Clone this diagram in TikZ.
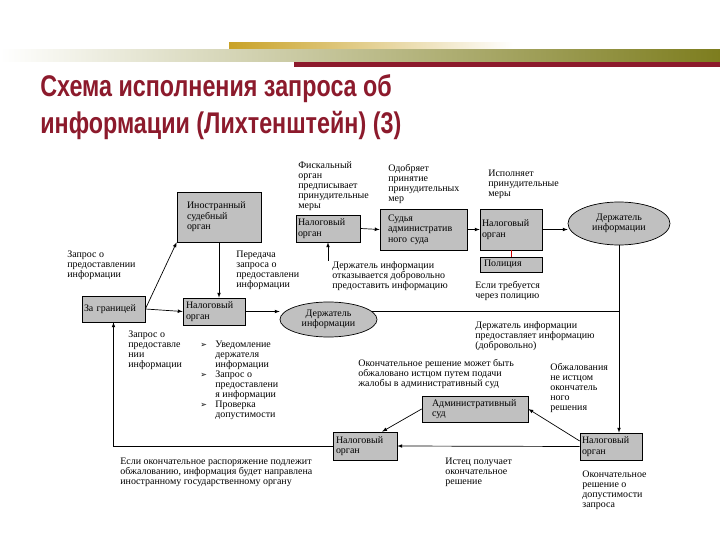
\documentclass[tikz,border=0pt]{standalone}
\usepackage{fontspec}
\setmainfont{Liberation Serif}
\newfontfamily\titlefont[FakeStretch=0.78]{Liberation Sans}
\newfontfamily\bulletfont{DejaVu Sans}
\usetikzlibrary{shapes.geometric}
\definecolor{titlered}{HTML}{8C1A2C}
\definecolor{barolive}{HTML}{7D7D1E}
\definecolor{bargold}{HTML}{C9A227}
\definecolor{boxgray}{HTML}{C0C0C0}
\newcommand{\bulletrow}[1]{\makebox[15bp][l]{\bulletfont\fontsize{8}{10}\selectfont ➢}#1}
\newcommand{\controw}[1]{\hspace*{15bp}#1}
\begin{document}
\begin{tikzpicture}[x=1bp, y=-1bp, >=latex, line width=0.7pt]
\tikzstyle{box} = [draw, fill=boxgray, inner ysep=0pt, align=left, font=\fontsize{10}{10.5}\selectfont]
\tikzstyle{holder} = [draw, fill=boxgray, ellipse, inner sep=0pt, align=center, font=\fontsize{10}{10.5}\selectfont]
\tikzstyle{txt} = [anchor=north west, inner sep=0pt, align=left, font=\fontsize{10}{10}\selectfont]
\useasboundingbox (0,0) rectangle (720,540);

\shade[left color=bargold, right color=white] (229,43) rectangle (513,50);
\shade[left color=white, right color=barolive] (0,50) rectangle (720,62);
\fill[titlered] (294,62) rectangle (720,67);
\node[anchor=north west, inner sep=0pt, align=left, text=titlered,
      font=\titlefont\bfseries\fontsize{30}{37}\selectfont] (title) at (40,74)
      {Схема исполнения запроса об\\информации (Лихтенштейн) (3)};

\node[box, text width=64bp, inner xsep=10bp, minimum height=50bp] (inostr) at (219,217) {Иностранный\\судебный\\орган};
\node[box, text width=60bp, inner xsep=2bp, minimum height=27bp] (nalogtop) at (328,228.5) {Налоговый\\орган};
\node[box, text width=71bp, inner xsep=8bp, minimum height=41bp] (sudya) at (423.5,229.5) {Судья\\административ\\ного суда};
\node[box, text width=58bp, inner xsep=2bp, minimum height=41bp] (nalogTR) at (511,229.5) {Налоговый\\орган\\[12bp]};
\node[box, text width=54bp, inner xsep=4bp, minimum height=15bp] (policia) at (511,264.5) {Полиция};
\node[holder, minimum width=102bp, minimum height=43bp] (derzh1) at (619,223.5) {Держатель\\информации};
\node[box, text width=59bp, inner xsep=2bp, minimum height=26bp] (zagr) at (113.5,309) {За границей};
\node[box, text width=56bp, inner xsep=3bp, minimum height=27bp] (nalogmid) at (214,311.5) {Налоговый\\орган};
\node[holder, minimum width=97bp, minimum height=35bp] (derzh2) at (328.5,319.5) {Держатель\\информации};
\node[box, text width=86bp, inner xsep=10bp, minimum height=26bp] (admsud) at (475,409) {Административный\\суд};
\node[box, text width=58bp, inner xsep=3bp, minimum height=28bp] (nalogBL) at (365,446) {Налоговый\\орган};
\node[box, text width=58bp, inner xsep=2bp, minimum height=27bp] (nalogBR) at (611,446.5) {Налоговый\\орган};

\node[txt] (fisk) at (298,161) {Фискальный\\орган\\предписывает\\принудительные\\меры};
\node[txt] (odobr) at (388,164) {Одобряет\\принятие\\принудительных\\мер};
\node[txt] (ispoln) at (488,170) {Исполняет\\принудительные\\меры};
\node[txt] (zapros1) at (67,251) {Запрос о\\предоставлении\\информации};
\node[txt] (peredacha) at (236,251) {Передача\\запроса о\\предоставлени\\информации};
\node[txt] (refuse) at (332,261) {Держатель информации\\отказывается добровольно\\предоставить информацию};
\node[txt] (viapolice) at (475,281) {Если требуется\\через полицию};
\node[txt] (volunt) at (475,321) {Держатель информации\\предоставляет информацию\\(добровольно)};
\node[txt] (zapros2) at (128,331) {Запрос о\\предоставле\\нии\\информации};
\node[txt] (steps) at (200,341) {\bulletrow{Уведомление}\\\controw{держателя}\\\controw{информации}\\\bulletrow{Запрос о}\\\controw{предоставлени}\\\controw{я информации}\\\bulletrow{Проверка}\\\controw{допустимости}};
\node[txt] (appeal) at (358,359) {Окончательное решение может быть\\обжаловано истцом путем подачи\\жалобы в административный суд};
\node[txt] (notplaintiff) at (550,363) {Обжалования\\не истцом\\окончатель\\ного\\решения};
\node[txt] (foreign) at (120,458) {Если окончательное распоряжение подлежит\\обжалованию, информация будет направлена\\иностранному государственному органу};
\node[txt] (plaintiff) at (445,458) {Истец получает\\окончательное\\решение};
\node[txt] (final) at (582,471) {Окончательное\\решение о\\допустимости\\запроса};

\draw[->] (zagr.east) -- (inostr.south west);
\draw[->] (zagr.east) -- (nalogmid.west);
\draw[->] (inostr.south) -- (inostr.south |- nalogmid.north);
\draw[->] (nalogmid.east) -- (nalogmid.east -| derzh2.west);
\draw (derzh2.11) -- (derzh2.11 -| derzh1.south);
\draw[->] (derzh1.south) -- (derzh1.south |- nalogBR.north);
\draw[->] (nalogtop.east) -- (sudya.west);
\draw[->] (sudya.east) -- (nalogTR.west);
\draw[->] (nalogTR.east) -- (nalogTR.east -| derzh1.west);
\draw[red!80!black] (nalogTR.south) -- (policia.north);
\draw[->] (nalogtop.south |- refuse.north) -- (nalogtop.south);
\draw[->] (admsud.west) -- (nalogBL.40);
\draw[->] (nalogBR.170) -- (admsud.east);
\draw[->] (nalogBR.west) -- (nalogBL.east);
\draw[->] (nalogBL.west) -| (zagr.south);
\end{tikzpicture}
\end{document}
